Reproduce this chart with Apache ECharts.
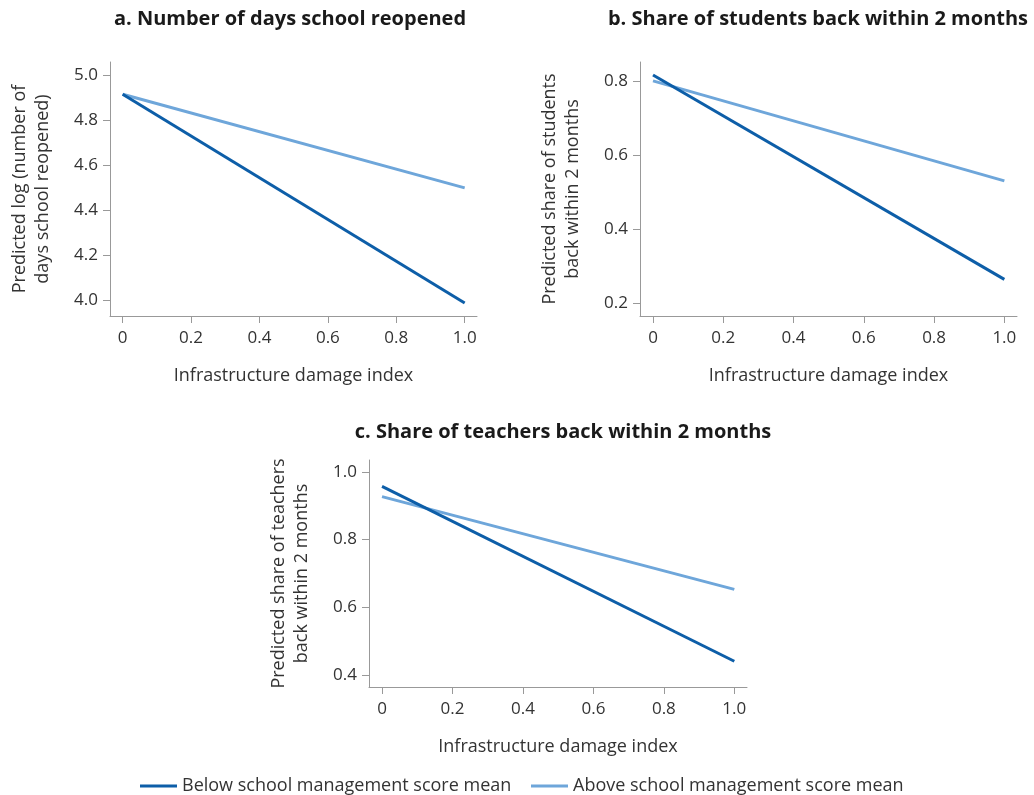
<!DOCTYPE html>
<html>
<head>
<meta charset="utf-8">
<script src="https://cdn.jsdelivr.net/npm/echarts@6/dist/echarts.min.js"></script>
<style>
  html, body { margin: 0; padding: 0; background: #fff; }
  #main { width: 1034px; height: 795px; }
</style>
</head>
<body>
<div id="main"></div>
<script>
// infrastructure damage index (x) and predicted values
var damageIndex = [0, 1.0];
var daysBelow = [4.915, 3.988];
var daysAbove = [4.915, 4.499];
var studentsBelow = [0.816, 0.264];
var studentsAbove = [0.800, 0.530];
var teachersBelow = [0.957, 0.441];
var teachersAbove = [0.927, 0.653];

var xTicks = [0, 0.2, 0.4, 0.6, 0.8, 1.0];
var daysTicks = [4.0, 4.2, 4.4, 4.6, 4.8, 5.0];
var studentsTicks = [0.2, 0.4, 0.6, 0.8];
var teachersTicks = [0.4, 0.6, 0.8, 1.0];

var belowName = 'Below school management score mean';
var aboveName = 'Above school management score mean';
var darkBlue = '#0d5ea8';
var lightBlue = '#6ea6da';
var textColor = '#333333';
var font = '"Open Sans", "Noto Sans", sans-serif';

function pairs(xs, ys) {
    return xs.map(function (x, i) { return [x, ys[i]]; });
}

function fmt(v) {
    return v === 0 ? '0' : v.toFixed(1);
}

function xAxisFor(gridIndex) {
    return {
        type: 'value',
        gridIndex: gridIndex,
        min: -0.037,
        max: 1.036,
        name: 'Infrastructure damage index',
        nameLocation: 'middle',
        nameGap: 51,
        nameTextStyle: {color: textColor, fontSize: 18, fontFamily: font},
        axisLine: {onZero: false, lineStyle: {color: '#999999', width: 1}},
        axisTick: {show: true, length: 7, customValues: xTicks, lineStyle: {color: '#999999'}},
        axisLabel: {customValues: xTicks, formatter: fmt, margin: 14, color: textColor, fontSize: 17, fontFamily: font},
        splitLine: {show: false}
    };
}

function yAxisFor(gridIndex, min, max, ticks, name, gap) {
    return {
        type: 'value',
        gridIndex: gridIndex,
        min: min,
        max: max,
        name: name,
        nameLocation: 'middle',
        nameGap: gap,
        nameTextStyle: {color: textColor, fontSize: 18, fontFamily: font, lineHeight: 23, align: 'center'},
        axisLine: {show: true, onZero: false, lineStyle: {color: '#999999', width: 1}},
        axisTick: {show: true, length: 7, customValues: ticks, lineStyle: {color: '#999999'}},
        axisLabel: {customValues: ticks, formatter: function (v) { return v.toFixed(1); }, margin: 12, color: textColor, fontSize: 17, fontFamily: font},
        splitLine: {show: false}
    };
}

function lineSeries(name, idx, data, color) {
    return {
        name: name,
        type: 'line',
        xAxisIndex: idx,
        yAxisIndex: idx,
        data: data,
        symbol: 'none',
        lineStyle: {color: color, width: 3},
        itemStyle: {color: color},
        silent: true
    };
}

var chart = echarts.init(document.getElementById('main'));

var titleStyle = {color: '#1a1a1a', fontSize: 20, fontWeight: 'bold', fontFamily: font};
var legendText = {color: textColor, fontSize: 18, fontFamily: font};

var option = {
    animation: false,
    title: [
        {text: 'a. Number of days school reopened', left: 285, top: 4, textAlign: 'center', textStyle: titleStyle},
        {text: 'b. Share of students back within 2 months', left: 813, top: 4, textAlign: 'center', textStyle: titleStyle},
        {text: 'c. Share of teachers back within 2 months', left: 558, top: 417, textAlign: 'center', textStyle: titleStyle}
    ],
    legend: [
        {data: [belowName], left: 135, top: 772, icon: 'rect', itemWidth: 37, itemHeight: 3, textStyle: legendText},
        {data: [aboveName], left: 526, top: 772, icon: 'rect', itemWidth: 37, itemHeight: 3, textStyle: legendText}
    ],
    grid: [
        {left: 110, top: 62, width: 367, height: 254},
        {left: 640, top: 62, width: 377, height: 254},
        {left: 369, top: 460, width: 378, height: 227}
    ],
    xAxis: [xAxisFor(0), xAxisFor(1), xAxisFor(2)],
    yAxis: [
        yAxisFor(0, 3.93, 5.058, daysTicks, 'Predicted log (number of\ndays school reopened)', 56),
        yAxisFor(1, 0.165, 0.851, studentsTicks, 'Predicted share of students\nback within 2 months', 56),
        yAxisFor(2, 0.365, 1.035, teachersTicks, 'Predicted share of teachers\nback within 2 months', 56)
    ],
    series: [
        lineSeries(aboveName, 0, pairs(damageIndex, daysAbove), lightBlue),
        lineSeries(belowName, 0, pairs(damageIndex, daysBelow), darkBlue),
        lineSeries(aboveName, 1, pairs(damageIndex, studentsAbove), lightBlue),
        lineSeries(belowName, 1, pairs(damageIndex, studentsBelow), darkBlue),
        lineSeries(aboveName, 2, pairs(damageIndex, teachersAbove), lightBlue),
        lineSeries(belowName, 2, pairs(damageIndex, teachersBelow), darkBlue)
    ]
};

chart.setOption(option);
</script>
</body>
</html>
